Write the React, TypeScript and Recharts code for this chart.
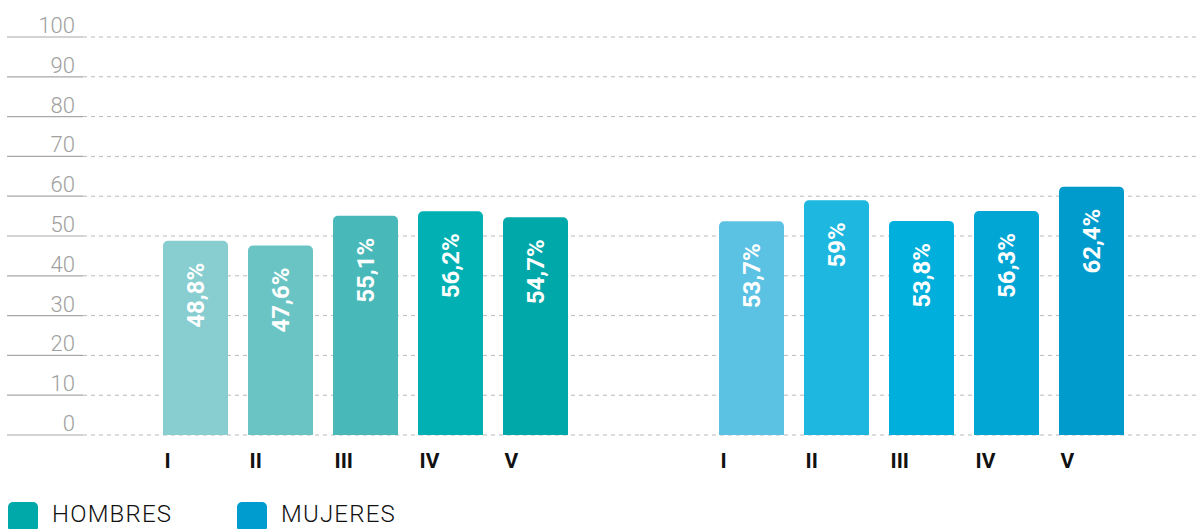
import React from 'react';
import { BarChart, Bar, XAxis, YAxis, CartesianGrid, Cell, LabelList } from 'recharts';

const categories = ['I', 'II', 'III', 'IV', 'V'];
const hombres = [48.8, 47.6, 55.1, 56.2, 54.7];
const mujeres = [53.7, 59, 53.8, 56.3, 62.4];
const yTicks = [0, 10, 20, 30, 40, 50, 60, 70, 80, 90, 100];

const hombresColors = ['#88cdd0', '#6bc4c4', '#48b8b9', '#00b0b3', '#00a8a9'];
const mujeresColors = ['#5cc2e4', '#1db7df', '#00afdb', '#02a6d5', '#009bcd'];

const FONT = 'Roboto, "Noto Sans", sans-serif';
const GRID = 'rgba(0,0,0,0.28)';

const hombresData = categories.map((c, i) => ({ name: c, value: hombres[i] }));
const mujeresData = categories.map((c, i) => ({ name: c, value: mujeres[i] }));

const fmt = (v: number) => String(v).replace('.', ',') + '%';

function YTick(props: any) {
  const { y, payload } = props;
  return (
    <g>
      <line x1={7} x2={83} y1={y} y2={y} stroke="#a8a8a8" strokeWidth={1.2} />
      <text x={75} y={y - 4} textAnchor="end" fontSize={22} fontWeight={300} fill="#a0a0a0" fontFamily={FONT}>
        {payload.value}
      </text>
    </g>
  );
}

function XTick(props: any) {
  const { x, y, payload } = props;
  return (
    <text x={x - 31} y={y + 33} textAnchor="start" fontSize={21} fontWeight={700} fill="#111" fontFamily={FONT}>
      {payload.value}
    </text>
  );
}

function BarLabel(props: any) {
  const { x, y, width, value } = props;
  const cx = x + width / 2 + 9;
  const ty = y + 22;
  return (
    <text x={cx} y={ty} transform={`rotate(-90, ${cx}, ${ty})`} textAnchor="end" fontSize={24} fontWeight={700} fill="#fff" fontFamily={FONT}>
      {fmt(value)}
    </text>
  );
}

const legendText: React.CSSProperties = {
  position: 'absolute', top: 502, fontSize: 24, fontFamily: FONT, fontWeight: 300,
  color: '#111', lineHeight: '25px', letterSpacing: 1.2, whiteSpace: 'nowrap',
};

export default function App() {
  return (
    <div style={{ position: 'absolute', left: 0, top: 0, width: 1200, height: 529, overflow: 'hidden', background: '#fff' }}>
      <div style={{ position: 'absolute', left: 0, top: 0 }}>
        <BarChart width={640} height={480} data={hombresData} margin={{ top: 37, right: 0, bottom: 0, left: 0 }}>
          <XAxis dataKey="name" axisLine={false} tickLine={false} tickSize={0} tickMargin={0} height={45}
            padding={{ left: 70, right: 62 }} tick={<XTick />} interval={0} />
          <YAxis domain={[0, 100]} ticks={yTicks} width={83} axisLine={false} tickLine={false} tick={<YTick />} interval={0} />
          <Bar dataKey="value" barSize={65} radius={[5, 5, 0, 0]} isAnimationActive={false}>
            {hombresData.map((d, i) => <Cell key={d.name} fill={hombresColors[i]} />)}
            <LabelList dataKey="value" content={<BarLabel />} />
          </Bar>
          <CartesianGrid vertical={false} stroke={GRID} strokeDasharray="4 4" />
        </BarChart>
      </div>
      <div style={{ position: 'absolute', left: 640, top: 0 }}>
        <BarChart width={560} height={480} data={mujeresData} margin={{ top: 37, right: 0, bottom: 0, left: 0 }}>
          <XAxis dataKey="name" axisLine={false} tickLine={false} tickSize={0} tickMargin={0} height={45}
            padding={{ left: 69, right: 66 }} tick={<XTick />} interval={0} />
          <YAxis hide domain={[0, 100]} ticks={yTicks} />
          <Bar dataKey="value" barSize={65} radius={[5, 5, 0, 0]} isAnimationActive={false}>
            {mujeresData.map((d, i) => <Cell key={d.name} fill={mujeresColors[i]} />)}
            <LabelList dataKey="value" content={<BarLabel />} />
          </Bar>
          <CartesianGrid vertical={false} stroke={GRID} strokeDasharray="4 4" />
        </BarChart>
      </div>
      <div style={{ position: 'absolute', left: 8, top: 502, width: 30, height: 30, borderRadius: 5, background: '#00a9a9' }} />
      <div style={{ ...legendText, left: 52 }}>HOMBRES</div>
      <div style={{ position: 'absolute', left: 237, top: 502, width: 30, height: 30, borderRadius: 5, background: '#009ccf' }} />
      <div style={{ ...legendText, left: 281 }}>MUJERES</div>
    </div>
  );
}
